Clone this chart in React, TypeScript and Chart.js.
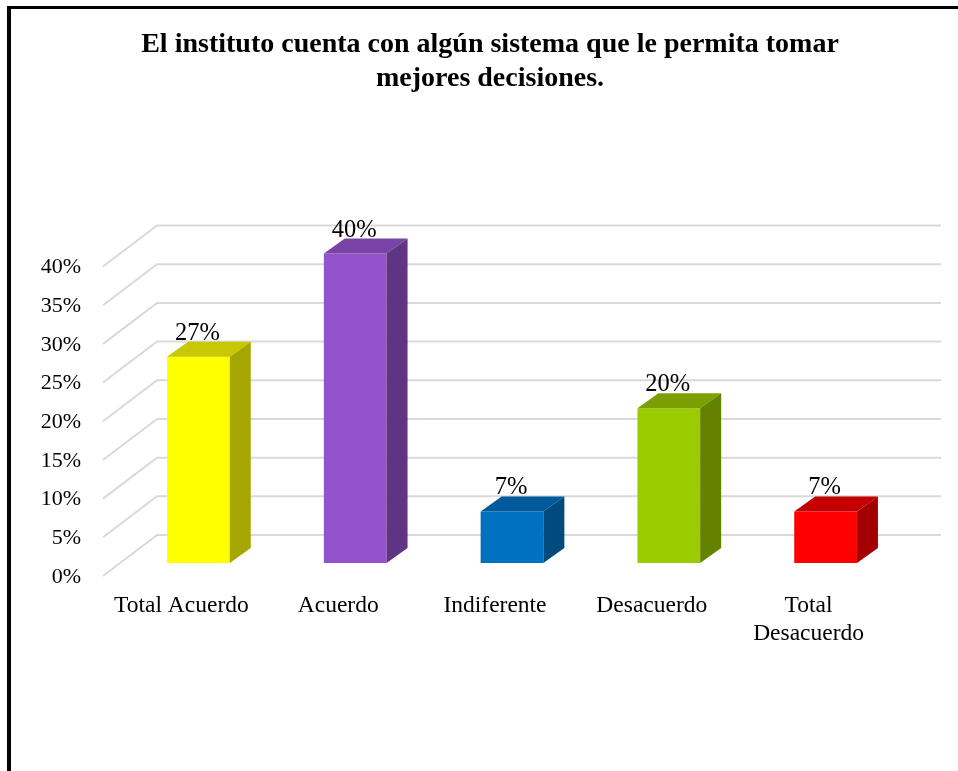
import React, { useEffect, useRef } from 'react';
import { Chart, registerables } from 'chart.js';

Chart.register(...registerables);

// ---- data ----
const categories: (string | string[])[] = ['Total Acuerdo', 'Acuerdo', 'Indiferente', 'Desacuerdo', ['Total', 'Desacuerdo']];
const values: number[] = [0.2667, 0.4, 0.0667, 0.2, 0.0667];
const titleLines: string[] = ['El instituto cuenta con algún sistema que le permita tomar', 'mejores decisiones.'];
const yMin = 0;
const yMax = 0.4;
const yStep = 0.05;

// ---- styles ----
const frontColors = ['#FFFF00', '#9453CA', '#0070C0', '#9ACC00', '#FF0000'];
const topColors = ['#C8C800', '#7A44A6', '#005A9B', '#7A9F00', '#C40000'];
const sideColors = ['#A6A600', '#5F3482', '#004A7D', '#638200', '#A30000'];
const FONT = "'Liberation Serif', 'Times New Roman', serif";

// 3D geometry (pixels)
const BAR_DX = 21;
const BAR_DY = -15;
const FRONT_DX = -17;
const FRONT_DY = 14;
const BACK_DX = 37;
const BACK_DY = -28;

const fmtPct = (v: number) => Math.round(v * 100) + '%';

const titlePlugin = {
  id: 'titleLines',
  afterDraw(chart: any) {
    const { ctx } = chart;
    ctx.save();
    ctx.fillStyle = '#000000';
    ctx.font = `bold 28px ${FONT}`;
    ctx.textAlign = 'center';
    ctx.textBaseline = 'alphabetic';
    titleLines.forEach((line, i) => {
      ctx.fillText(line, chart.width / 2, 52 + i * 34);
    });
    ctx.restore();
  },
};

const grid3d = {
  id: 'grid3d',
  beforeDatasetsDraw(chart: any) {
    const { ctx, chartArea, scales } = chart;
    const y = scales.y;
    ctx.save();
    ctx.strokeStyle = '#D9D9D9';
    ctx.lineWidth = 2;
    y.ticks.forEach((t: any) => {
      const py = y.getPixelForValue(t.value);
      ctx.beginPath();
      ctx.moveTo(chartArea.left + FRONT_DX, py + 13);
      ctx.lineTo(chartArea.left + BACK_DX, py + BACK_DY);
      ctx.lineTo(chartArea.right + BACK_DX, py + BACK_DY);
      ctx.stroke();
    });
    ctx.restore();
  },
};

const bars3d = {
  id: 'bars3d',
  afterDatasetsDraw(chart: any) {
    const { ctx } = chart;
    const meta = chart.getDatasetMeta(0);
    ctx.save();
    meta.data.forEach((bar: any, i: number) => {
      const { x, y, base, width } = bar.getProps(['x', 'y', 'base', 'width'], true);
      const l = x - width / 2;
      const r = x + width / 2;
      ctx.fillStyle = topColors[i];
      ctx.beginPath();
      ctx.moveTo(l, y);
      ctx.lineTo(l + BAR_DX, y + BAR_DY);
      ctx.lineTo(r + BAR_DX, y + BAR_DY);
      ctx.lineTo(r, y);
      ctx.closePath();
      ctx.fill();
      ctx.fillStyle = sideColors[i];
      ctx.beginPath();
      ctx.moveTo(r, y);
      ctx.lineTo(r + BAR_DX, y + BAR_DY);
      ctx.lineTo(r + BAR_DX, base + BAR_DY);
      ctx.lineTo(r, base);
      ctx.closePath();
      ctx.fill();
      ctx.fillStyle = '#000000';
      ctx.font = `24.5px ${FONT}`;
      ctx.textAlign = 'center';
      ctx.textBaseline = 'alphabetic';
      ctx.fillText(fmtPct(values[i]), x - 1, y + BAR_DY - 2);
    });
    ctx.restore();
  },
};

export default function App() {
  const ref = useRef<HTMLCanvasElement>(null);

  useEffect(() => {
    if (!ref.current) return;
    const chart = new Chart(ref.current, {
      type: 'bar',
      data: {
        labels: categories as any,
        datasets: [
          {
            data: values,
            backgroundColor: frontColors,
            borderWidth: 0,
            barPercentage: 0.4,
            categoryPercentage: 1,
            clip: false as any,
          },
        ],
      },
      options: {
        responsive: false,
        animation: false,
        events: [],
        layout: { padding: { left: 0, right: 54, top: 253.5, bottom: 0 } },
        plugins: {
          legend: { display: false },
          tooltip: { enabled: false },
          title: { display: false },
        },
        scales: {
          x: {
            grid: { display: false },
            border: { display: false },
            ticks: {
              color: '#000000',
              font: { family: FONT, size: 23.5, lineHeight: 1.2 },
              padding: 21,
              labelOffset: FRONT_DX,
              maxRotation: 0,
              minRotation: 0,
              autoSkip: false,
            },
            afterFit(scale: any) {
              scale.height = 208;
            },
          },
          y: {
            min: yMin,
            max: yMax,
            grid: { display: false },
            border: { display: false },
            ticks: {
              stepSize: yStep,
              color: '#000000',
              font: { family: FONT, size: 22 },
              padding: 31,
              labelOffset: FRONT_DY,
              callback: (v: any) => fmtPct(Number(v)),
            },
            afterFit(scale: any) {
              scale.width = 98;
            },
          },
        },
      },
      plugins: [grid3d, bars3d, titlePlugin],
    });
    return () => chart.destroy();
  }, []);

  return (
    <div style={{ position: 'absolute', left: 0, top: 0, width: 958, height: 771, overflow: 'hidden', background: '#fff' }}>
      <div
        style={{
          position: 'absolute',
          left: 7,
          top: 6,
          width: 960,
          height: 780,
          borderLeft: '4px solid #000',
          borderTop: '3px solid #000',
          boxSizing: 'border-box',
        }}
      />
      <canvas
        ref={ref}
        width={936}
        height={771}
        style={{ position: 'absolute', left: 22, top: 0, width: 936, height: 771 }}
      />
    </div>
  );
}
